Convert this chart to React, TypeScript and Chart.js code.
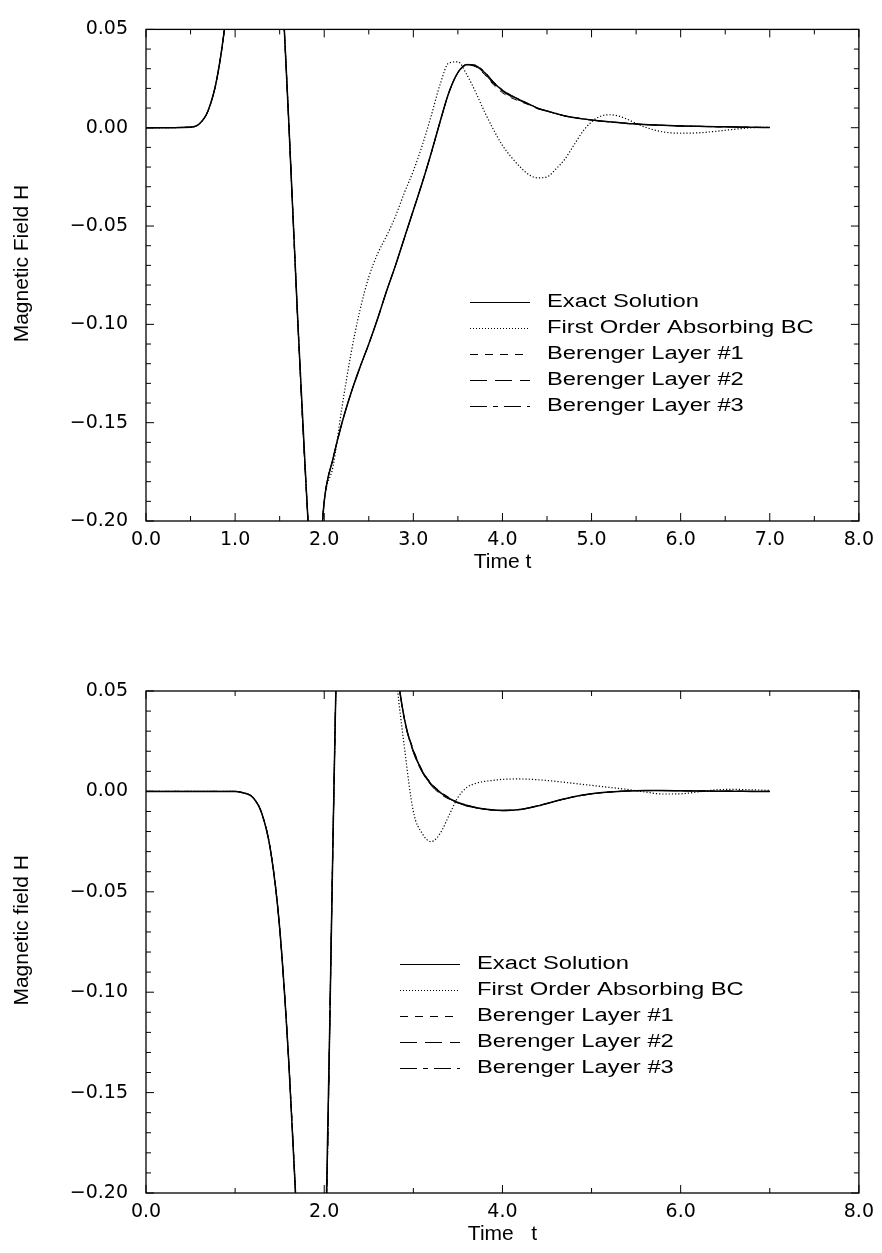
import React, { useEffect, useRef } from 'react';
import { Chart, registerables } from 'chart.js';

Chart.register(...registerables);

// ---------- Top panel data ----------
const tTop = [0, 0.5, 0.6, 0.7, 0.8, 0.9, 1.0, 1.1, 1.2, 1.3, 1.4, 1.5, 1.6, 1.7, 1.8, 1.9, 2.0, 2.1, 2.2, 2.3, 2.4, 2.5, 2.6, 2.7, 2.8, 2.9, 3.0, 3.1, 3.2, 3.3, 3.4, 3.5, 3.6, 3.7, 3.8, 3.9, 4.0, 4.1, 4.2, 4.3, 4.4, 4.5, 4.6, 4.7, 4.8, 4.9, 5.0, 5.1, 5.2, 5.3, 5.4, 5.5, 5.6, 5.8, 6.0, 6.2, 6.4, 6.6, 6.8, 7.0];

const exactTop = [0, 0.0003, 0.002, 0.009, 0.026, 0.058, 0.11, 0.17, 0.22, 0.24, 0.21, 0.1, 0.005, -0.095, -0.185, -0.25, -0.19, -0.168, -0.15, -0.135, -0.122, -0.11, -0.097, -0.083, -0.07, -0.056, -0.042, -0.028, -0.013, 0.003, 0.018, 0.028, 0.032, 0.0315, 0.028, 0.023, 0.019, 0.0162, 0.014, 0.012, 0.0098, 0.0085, 0.0072, 0.006, 0.0052, 0.0045, 0.0039, 0.0034, 0.003, 0.0026, 0.0022, 0.0019, 0.0016, 0.0012, 0.0009, 0.0007, 0.0005, 0.0004, 0.0002, 0.0001];

const firstOrderTop = [0, 0.0003, 0.002, 0.009, 0.026, 0.058, 0.11, 0.17, 0.22, 0.24, 0.21, 0.1, 0.005, -0.095, -0.185, -0.25, -0.19, -0.172, -0.142, -0.115, -0.093, -0.076, -0.064, -0.055, -0.045, -0.033, -0.022, -0.009, 0.006, 0.022, 0.033, 0.0335, 0.027, 0.018, 0.008, -0.001, -0.009, -0.015, -0.02, -0.024, -0.0255, -0.025, -0.021, -0.016, -0.009, -0.002, 0.003, 0.0058, 0.0066, 0.006, 0.0043, 0.0022, 0.0003, -0.0021, -0.0028, -0.0026, -0.0018, -0.0008, 0.0, 0.0003];

const berenger1Top = [0, 0.0003, 0.002, 0.009, 0.026, 0.058, 0.11, 0.17, 0.22, 0.24, 0.21, 0.1, 0.005, -0.095, -0.185, -0.25, -0.19, -0.168, -0.15, -0.135, -0.122, -0.11, -0.097, -0.083, -0.07, -0.056, -0.042, -0.028, -0.013, 0.003, 0.018, 0.0278, 0.0318, 0.031, 0.027, 0.0218, 0.0178, 0.0152, 0.0133, 0.0116, 0.0096, 0.0084, 0.0071, 0.006, 0.0052, 0.0045, 0.0039, 0.0034, 0.003, 0.0026, 0.0022, 0.0019, 0.0016, 0.0012, 0.0009, 0.0007, 0.0005, 0.0004, 0.0002, 0.0001];

const berenger2Top = [0, 0.0003, 0.002, 0.009, 0.026, 0.058, 0.11, 0.17, 0.22, 0.24, 0.21, 0.1, 0.005, -0.095, -0.185, -0.25, -0.19, -0.168, -0.15, -0.135, -0.122, -0.11, -0.097, -0.083, -0.07, -0.056, -0.042, -0.028, -0.013, 0.003, 0.018, 0.028, 0.032, 0.0313, 0.0275, 0.0224, 0.0185, 0.0158, 0.0137, 0.0118, 0.0097, 0.0085, 0.0072, 0.006, 0.0052, 0.0045, 0.0039, 0.0034, 0.003, 0.0026, 0.0022, 0.0019, 0.0016, 0.0012, 0.0009, 0.0007, 0.0005, 0.0004, 0.0002, 0.0001];

const berenger3Top = [0, 0.0003, 0.002, 0.009, 0.026, 0.058, 0.11, 0.17, 0.22, 0.24, 0.21, 0.1, 0.005, -0.095, -0.185, -0.25, -0.19, -0.168, -0.15, -0.135, -0.122, -0.11, -0.097, -0.083, -0.07, -0.056, -0.042, -0.028, -0.013, 0.003, 0.018, 0.0282, 0.0322, 0.0318, 0.0285, 0.0234, 0.0193, 0.0165, 0.0142, 0.0121, 0.0099, 0.0086, 0.0073, 0.006, 0.0052, 0.0045, 0.0039, 0.0034, 0.003, 0.0026, 0.0022, 0.0019, 0.0016, 0.0012, 0.0009, 0.0007, 0.0005, 0.0004, 0.0002, 0.0001];

// ---------- Bottom panel data ----------
const tBot = [0, 0.5, 1.0, 1.1, 1.2, 1.3, 1.4, 1.5, 1.6, 1.7, 1.8, 1.9, 2.0, 2.1, 2.2, 2.3, 2.4, 2.5, 2.6, 2.7, 2.8, 2.9, 3.0, 3.1, 3.2, 3.3, 3.4, 3.5, 3.6, 3.7, 3.8, 3.9, 4.0, 4.2, 4.4, 4.6, 4.8, 5.0, 5.2, 5.4, 5.6, 5.8, 6.0, 6.2, 6.4, 6.6, 6.8, 7.0];

const exactBot = [0, 0, 0, -0.0008, -0.003, -0.011, -0.03, -0.068, -0.133, -0.22, -0.31, -0.34, -0.26, -0.02, 0.2, 0.33, 0.36, 0.31, 0.22, 0.13, 0.068, 0.036, 0.02, 0.01, 0.0035, -0.0005, -0.0035, -0.0055, -0.007, -0.008, -0.0088, -0.0093, -0.0095, -0.009, -0.0072, -0.0048, -0.0027, -0.0012, -0.0003, 0.0002, 0.0004, 0.0004, 0.0003, 0.0002, 0.0001, 0.0001, 0.0, 0.0];

const firstOrderBot = [0, 0, 0, -0.0008, -0.003, -0.011, -0.03, -0.068, -0.133, -0.22, -0.31, -0.34, -0.26, -0.02, 0.2, 0.33, 0.36, 0.31, 0.22, 0.13, 0.062, 0.022, -0.01, -0.021, -0.025, -0.021, -0.012, -0.003, 0.002, 0.004, 0.005, 0.0055, 0.006, 0.0062, 0.0058, 0.005, 0.004, 0.003, 0.002, 0.001, -0.0003, -0.0013, -0.0012, -0.0002, 0.0008, 0.001, 0.0008, 0.0005];

const berenger1Bot = [0, 0, 0, -0.0008, -0.003, -0.011, -0.03, -0.068, -0.133, -0.22, -0.31, -0.34, -0.26, -0.02, 0.2, 0.33, 0.36, 0.31, 0.22, 0.13, 0.068, 0.036, 0.021, 0.0105, 0.0042, 0.0, -0.003, -0.0058, -0.0068, -0.0082, -0.0086, -0.0094, -0.0096, -0.009, -0.0072, -0.0048, -0.0027, -0.0012, -0.0003, 0.0002, 0.0004, 0.0004, 0.0003, 0.0002, 0.0001, 0.0001, 0.0, 0.0];

const berenger2Bot = [0, 0, 0, -0.0008, -0.003, -0.011, -0.03, -0.068, -0.133, -0.22, -0.31, -0.34, -0.26, -0.02, 0.2, 0.33, 0.36, 0.31, 0.22, 0.13, 0.068, 0.036, 0.0195, 0.0095, 0.003, -0.0012, -0.0038, -0.0052, -0.0074, -0.0079, -0.009, -0.0092, -0.0096, -0.0091, -0.0072, -0.0048, -0.0027, -0.0012, -0.0003, 0.0002, 0.0004, 0.0004, 0.0003, 0.0002, 0.0001, 0.0001, 0.0, 0.0];

const berenger3Bot = [0, 0, 0, -0.0008, -0.003, -0.011, -0.03, -0.068, -0.133, -0.22, -0.31, -0.34, -0.26, -0.02, 0.2, 0.33, 0.36, 0.31, 0.22, 0.13, 0.068, 0.036, 0.0205, 0.0102, 0.0038, -0.0002, -0.0033, -0.006, -0.0066, -0.0083, -0.0087, -0.0095, -0.0094, -0.0089, -0.0071, -0.0048, -0.0027, -0.0012, -0.0003, 0.0002, 0.0004, 0.0004, 0.0003, 0.0002, 0.0001, 0.0001, 0.0, 0.0];

// ---------- Ticks & labels ----------
const seriesLabels = ['Exact Solution', 'First Order Absorbing BC', 'Berenger Layer #1', 'Berenger Layer #2', 'Berenger Layer #3'];

const xTickValuesTop = [0, 0.5, 1, 1.5, 2, 2.5, 3, 3.5, 4, 4.5, 5, 5.5, 6, 6.5, 7, 7.5, 8];
const xTickLabelsTop = ['0.0', '', '1.0', '', '2.0', '', '3.0', '', '4.0', '', '5.0', '', '6.0', '', '7.0', '', '8.0'];
const xTickValuesBot = [0, 1, 2, 3, 4, 5, 6, 7, 8];
const xTickLabelsBot = ['0.0', '', '2.0', '', '4.0', '', '6.0', '', '8.0'];
const yTickValues = [-0.2, -0.19, -0.18, -0.17, -0.16, -0.15, -0.14, -0.13, -0.12, -0.11, -0.1, -0.09, -0.08, -0.07, -0.06, -0.05, -0.04, -0.03, -0.02, -0.01, 0, 0.01, 0.02, 0.03, 0.04, 0.05];
const yTickLabels = ['\u22120.20', '', '', '', '', '\u22120.15', '', '', '', '', '\u22120.10', '', '', '', '', '\u22120.05', '', '', '', '', '0.00', '', '', '', '', '0.05'];

// ---------- Styles ----------
const dashes: number[][] = [[], [1.2, 2], [7, 6], [14, 6], [14, 5, 4, 5]];
const widths = [1.5, 1.2, 1, 1, 1];
const legendDashes: number[][] = [[], [1, 2], [8, 7], [17, 8], [17, 6, 5, 6]];

const framePlugin = {
  id: 'frameTicks',
  afterDraw(chart: any) {
    const { ctx, chartArea: a, scales } = chart;
    ctx.save();
    ctx.strokeStyle = '#000';
    ctx.lineWidth = 1.3;
    ctx.setLineDash([]);
    ctx.strokeRect(a.left, a.top, a.right - a.left, a.bottom - a.top);
    ctx.beginPath();
    const xs = scales.x;
    xs.ticks.forEach((t: any) => {
      const px = xs.getPixelForValue(t.value);
      const len = t.label ? 8 : 5;
      ctx.moveTo(px, a.bottom);
      ctx.lineTo(px, a.bottom - len);
      ctx.moveTo(px, a.top);
      ctx.lineTo(px, a.top + len);
    });
    const ys = scales.y;
    ys.ticks.forEach((t: any) => {
      const py = ys.getPixelForValue(t.value);
      const len = t.label ? 8 : 5;
      ctx.moveTo(a.left, py);
      ctx.lineTo(a.left + len, py);
      ctx.moveTo(a.right, py);
      ctx.lineTo(a.right - len, py);
    });
    ctx.lineWidth = 1;
    ctx.stroke();
    ctx.restore();
  },
};

const curveLegend = {
  id: 'curveLegend',
  afterDraw(chart: any, _args: any, opts: any) {
    const { ctx, chartArea: a } = chart;
    const x0 = a.left + opts.dx;
    const y0 = a.top + opts.dy;
    ctx.save();
    chart.data.datasets.forEach((ds: any, i: number) => {
      const yc = y0 + i * 26;
      const yl = Math.round(yc) + 0.5;
      ctx.beginPath();
      ctx.setLineDash(legendDashes[i]);
      ctx.lineWidth = 1;
      ctx.strokeStyle = '#000';
      ctx.moveTo(x0, yl);
      ctx.lineTo(x0 + 60, yl);
      ctx.stroke();
      ctx.setLineDash([]);
      ctx.save();
      ctx.translate(x0 + 77, yc);
      ctx.scale(1.32, 1);
      ctx.font = '18px "Liberation Sans", Arial, sans-serif';
      ctx.fillStyle = '#000';
      ctx.textBaseline = 'middle';
      ctx.textAlign = 'left';
      ctx.fillText(ds.label, 0, 0);
      ctx.restore();
    });
    ctx.restore();
  },
};

type PlotProps = {
  height: number;
  padTop: number;
  xAxisHeight: number;
  t: number[];
  series: number[][];
  xTickValues: number[];
  xTickLabels: string[];
  xTitle: string;
  xTitlePad: number;
  yTitle: string;
  legendDx: number;
};

function FieldPlot(p: PlotProps) {
  const ref = useRef<HTMLCanvasElement | null>(null);
  useEffect(() => {
    if (!ref.current) return;
    const datasets = p.series.map((ys, k) => ({
      label: seriesLabels[k],
      data: p.t.map((x, i) => ({ x, y: ys[i] })),
      borderColor: '#000',
      backgroundColor: '#000',
      borderWidth: widths[k],
      borderDash: dashes[k],
      pointRadius: 0,
      fill: false,
      cubicInterpolationMode: 'monotone',
    }));
    const tickFont = { family: "'DejaVu Sans', sans-serif", size: 19 };
    const titleFont = { family: "'Liberation Sans Narrow', 'Liberation Sans', Arial, sans-serif", size: 21 };
    const chart = new Chart(ref.current, {
      type: 'line',
      data: { datasets } as any,
      plugins: [framePlugin, curveLegend],
      options: {
        animation: false,
        responsive: false,
        maintainAspectRatio: false,
        events: [],
        layout: { padding: { left: 0, right: 21, top: p.padTop, bottom: 0 } },
        plugins: {
          legend: { display: false },
          tooltip: { enabled: false },
          curveLegend: { dx: p.legendDx, dy: 273 },
        } as any,
        scales: {
          x: {
            type: 'linear',
            position: 'bottom',
            min: 0,
            max: 8,
            afterBuildTicks: (s: any) => {
              s.ticks = p.xTickValues.map((v) => ({ value: v }));
            },
            afterFit: (s: any) => {
              s.height = p.xAxisHeight;
            },
            grid: { display: false, drawTicks: false, tickLength: 0 },
            border: { display: false },
            ticks: {
              autoSkip: false,
              maxRotation: 0,
              minRotation: 0,
              padding: 8,
              color: '#000',
              font: tickFont,
              callback: (_v: any, i: number) => p.xTickLabels[i],
            },
            title: {
              display: true,
              text: p.xTitle,
              color: '#000',
              font: titleFont,
              padding: { top: 0, bottom: p.xTitlePad },
            },
          },
          y: {
            type: 'linear',
            min: -0.2,
            max: 0.05,
            afterBuildTicks: (s: any) => {
              s.ticks = yTickValues.map((v) => ({ value: v }));
            },
            afterFit: (s: any) => {
              s.width = 146;
            },
            grid: { display: false, drawTicks: false, tickLength: 0 },
            border: { display: false },
            ticks: {
              autoSkip: false,
              padding: 18,
              color: '#000',
              font: tickFont,
              callback: (_v: any, i: number) => yTickLabels[i],
            },
            title: {
              display: true,
              text: '\u00A0\u00A0\u00A0\u00A0' + p.yTitle,
              color: '#000',
              font: titleFont,
              padding: { top: 10, bottom: 0 },
            },
          },
        },
      } as any,
    });
    return () => chart.destroy();
  }, []);
  return (
    <canvas
      ref={ref}
      width={882}
      height={p.height}
      style={{ display: 'block', width: 882, height: p.height }}
    />
  );
}

export default function App() {
  return (
    <div style={{ position: 'absolute', left: 0, top: 0, width: 882, height: 1253, background: '#fff' }}>
      <FieldPlot
        height={600}
        padTop={15}
        xAxisHeight={79}
        t={tTop}
        series={[exactTop, firstOrderTop, berenger1Top, berenger2Top, berenger3Top]}
        xTickValues={xTickValuesTop}
        xTickLabels={xTickLabelsTop}
        xTitle="Time t"
        xTitlePad={25}
        yTitle="Magnetic Field H"
        legendDx={324}
      />
      <FieldPlot
        height={653}
        padTop={91}
        xAxisHeight={60}
        t={tBot}
        series={[exactBot, firstOrderBot, berenger1Bot, berenger2Bot, berenger3Bot]}
        xTickValues={xTickValuesBot}
        xTickLabels={xTickLabelsBot}
        xTitle="Time   t"
        xTitlePad={6}
        yTitle="Magnetic field H"
        legendDx={254}
      />
    </div>
  );
}
